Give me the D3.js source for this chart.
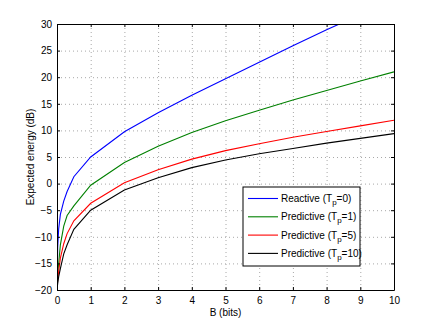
<!DOCTYPE html>
<html>
<head>
<meta charset="utf-8">
<title></title>
<style>
    body { margin: 0; background: #fff; }
    svg text { font-family: "Liberation Sans", Arial, sans-serif; font-size: 10px; fill: #000; }
    .grid line { stroke: #a8a8a8; stroke-dasharray: 1,3; stroke-width: 1; }
    .series { fill: none; stroke-width: 1.1; }
</style>
</head>
<body>
<svg class="drawing"></svg>
<script src="https://d3js.org/d3.v7.min.js"></script>
<script>
var w = 436, h = 327;
var margin = {left: 57, right: 42, top: 24, bottom: 37};

var bits = [0, 0.02, 0.05, 0.1, 0.2, 0.3, 0.5, 1, 2, 3, 4, 5, 6, 7, 8, 9, 10];
var reactive0 = [-20, -12, -8.5, -5.8, -3.3, -1.5, 1.3, 5.0, 9.75, 13.3, 16.6, 19.7, 22.8, 25.9, 28.9, 31.8, 34.6];
var predictive1 = [-20, -17, -15, -11.5, -8, -6, -4.2, -0.3, 3.95, 7.0, 9.6, 11.8, 13.8, 15.7, 17.5, 19.3, 21.0];
var predictive5 = [-20, -18, -16.5, -14, -11.3, -9.4, -7.0, -3.7, 0.15, 2.6, 4.6, 6.2, 7.5, 8.7, 9.8, 10.85, 11.9];
var predictive10 = [-20, -18.8, -17.5, -16, -13.2, -11.5, -8.6, -5.0, -1.2, 1.1, 3.0, 4.45, 5.6, 6.6, 7.6, 8.5, 9.4];

var seriesNames = ['Reactive', 'Predictive', 'Predictive', 'Predictive'];
var seriesTp = ['0', '1', '5', '10'];
var seriesColors = ['#0000ff', '#008000', '#ff0000', '#000000'];
var seriesValues = [reactive0, predictive1, predictive5, predictive10];

var xTicks = d3.range(0, 11, 1);
var yTicks = d3.range(-20, 31, 5);

var x = d3.scaleLinear().domain([0, 10]).range([margin.left, w - margin.right]);
var y = d3.scaleLinear().domain([-20, 30]).range([h - margin.bottom, margin.top]);

var svg = d3.select('.drawing').attr('width', w).attr('height', h);

// dotted grid
var grid = svg.append('g').attr('class', 'grid');
grid.selectAll('.gx').data(xTicks.slice(1, -1)).enter().append('line')
    .attr('x1', d => x(d) + 0.5).attr('x2', d => x(d) + 0.5)
    .attr('y1', y(30)).attr('y2', y(-20));
grid.selectAll('.gy').data(yTicks.slice(1, -1)).enter().append('line')
    .attr('y1', d => y(d) + 0.5).attr('y2', d => y(d) + 0.5)
    .attr('x1', x(0)).attr('x2', x(10));

// series lines, clipped to the axes box
svg.append('clipPath').attr('id', 'clip').append('rect')
    .attr('x', x(0)).attr('y', y(30)).attr('width', x(10) - x(0)).attr('height', y(-20) - y(30));

var line = d3.line().x(d => x(d[0])).y(d => y(d[1]));
svg.append('g').attr('clip-path', 'url(#clip)')
    .selectAll('path').data(seriesValues).enter().append('path')
    .attr('class', 'series')
    .attr('stroke', (d, i) => seriesColors[i])
    .attr('d', vals => line(bits.map((b, i) => [b, vals[i]])));

// axes, ticks pointing inward on all four sides
var fmt = d => d < 0 ? '\u2212' + Math.abs(d) : d;
svg.append('g').attr('transform', 'translate(0,' + y(-20) + ')')
    .call(d3.axisBottom(x).tickValues(xTicks).tickSizeInner(-3).tickSizeOuter(0).tickPadding(7).tickFormat(fmt));
svg.append('g').attr('transform', 'translate(0,' + y(30) + ')')
    .call(d3.axisTop(x).tickValues(xTicks).tickSizeInner(-3).tickSizeOuter(0).tickFormat(''));
svg.append('g').attr('transform', 'translate(' + x(0) + ',0)')
    .call(d3.axisLeft(y).tickValues(yTicks).tickSizeInner(-3).tickSizeOuter(0).tickPadding(5).tickFormat(fmt));
svg.append('g').attr('transform', 'translate(' + x(10) + ',0)')
    .call(d3.axisRight(y).tickValues(yTicks).tickSizeInner(-3).tickSizeOuter(0).tickFormat(''));
svg.selectAll('.domain').attr('stroke', '#000');
svg.selectAll('.tick line').attr('stroke', '#000');
svg.selectAll('.tick text').style('font-family', '"Liberation Sans", Arial, sans-serif').style('font-size', '10px');

// axis labels
svg.append('text').attr('x', x(5)).attr('y', 316).attr('text-anchor', 'middle').text('B (bits)');
svg.append('text').attr('transform', 'translate(34,' + y(5) + ') rotate(-90)')
    .attr('text-anchor', 'middle').text('Expected energy (dB)');

// legend
var lg = svg.append('g').attr('transform', 'translate(243,187)');
lg.append('rect').attr('width', 117).attr('height', 79)
    .attr('fill', '#fff').attr('stroke', '#000').attr('stroke-width', 1);
var rows = lg.selectAll('.row').data(seriesNames).enter().append('g')
    .attr('transform', (d, i) => 'translate(0,' + (11.5 + i * 18.3) + ')');
rows.append('line').attr('x1', 5).attr('x2', 35).attr('y1', 0).attr('y2', 0)
    .attr('stroke', (d, i) => seriesColors[i]).attr('stroke-width', 1.1);
var t = rows.append('text').attr('x', 38).attr('y', 3.5);
t.append('tspan').text((d, i) => d + ' (T');
t.append('tspan').attr('dy', 3).style('font-size', '8px').text('p');
t.append('tspan').attr('dy', -3).text((d, i) => '=' + seriesTp[i] + ')');
</script>
</body>
</html>
